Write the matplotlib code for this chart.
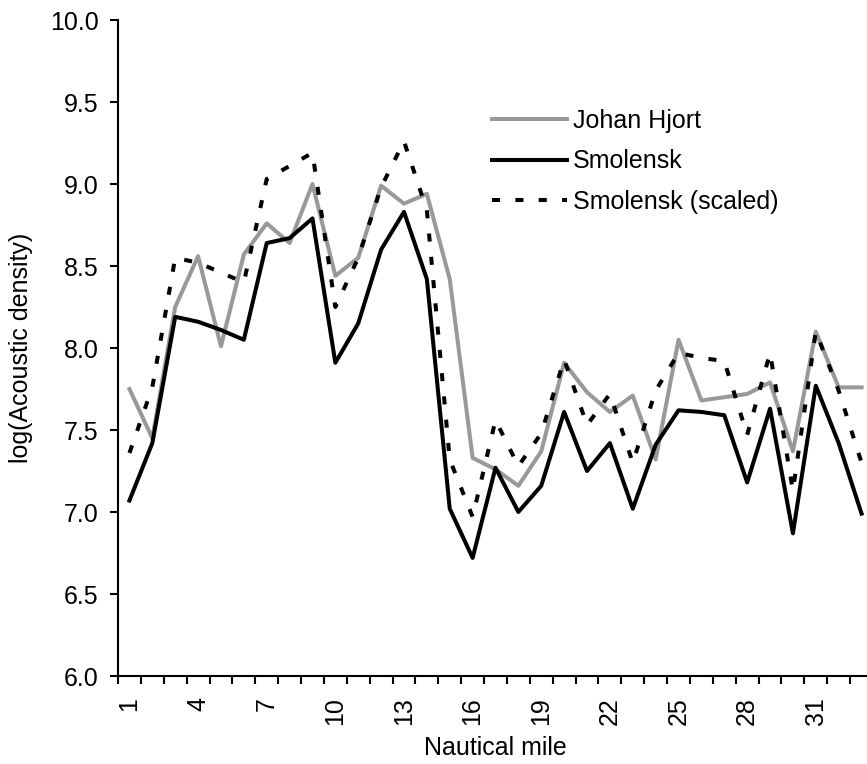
import numpy as np
import matplotlib
matplotlib.use("Agg")
import matplotlib.pyplot as plt

plt.rcParams['font.family'] = ['Liberation Sans', 'DejaVu Sans']

# nautical mile index 1..33
miles = list(range(1, 34))

johan_hjort = [7.75, 7.45, 8.25, 8.56, 8.01, 8.57, 8.76, 8.64, 9.00, 8.44,
               8.55, 8.99, 8.88, 8.94, 8.42, 7.33, 7.26, 7.16, 7.37, 7.91,
               7.73, 7.61, 7.71, 7.32, 8.05, 7.68, 7.70, 7.72, 7.79, 7.37,
               8.10, 7.76, 7.76]

smolensk = [7.07, 7.42, 8.19, 8.16, 8.11, 8.05, 8.64, 8.67, 8.79, 7.91,
            8.15, 8.60, 8.83, 8.42, 7.02, 6.72, 7.27, 7.00, 7.16, 7.61,
            7.25, 7.42, 7.02, 7.41, 7.62, 7.61, 7.59, 7.18, 7.63, 6.87,
            7.77, 7.42, 6.99]

smolensk_scaled = [7.36, 7.76, 8.55, 8.52, 8.46, 8.40, 9.03, 9.11, 9.19, 8.25,
                   8.55, 8.98, 9.26, 8.84, 7.32, 6.97, 7.56, 7.28, 7.48, 7.93,
                   7.53, 7.72, 7.30, 7.74, 7.97, 7.94, 7.92, 7.47, 7.97, 7.13,
                   8.10, 7.74, 7.30]

tick_labels = [str(m) for m in miles if (m - 1) % 3 == 0]

W, H = 867, 764
fig = plt.figure(figsize=(W / 100, H / 100), dpi=100)
# plot area runs slightly past the right edge, as in the reference
ax = fig.add_axes([118 / W, (H - 676) / H, (873 - 118) / W, (676 - 20) / H])

lw = 2.9
ax.plot(miles, johan_hjort, color='#999999', lw=lw, label='Johan Hjort')
ax.plot(miles, smolensk, color='black', lw=lw, label='Smolensk')
ax.plot(miles, smolensk_scaled, color='black', lw=lw, dashes=(2.0, 3.8),
        label='Smolensk (scaled)')

ax.set_xlim(0.5, 33.5)
ax.set_ylim(6.0, 10.0)
ax.set_yticks(np.arange(6.0, 10.01, 0.5))
ax.set_yticklabels(['%.1f' % v for v in np.arange(6.0, 10.01, 0.5)])

# category axis: marks between categories, labels at every third category
ax.set_xticks(np.arange(0.5, 34, 1.0))
ax.set_xticklabels([])
ax.set_xticks([m for m in miles if (m - 1) % 3 == 0], minor=True)
ax.set_xticklabels(tick_labels, minor=True, rotation=90)
ax.tick_params(axis='x', which='minor', length=0, pad=15, labelsize=18)
ax.tick_params(axis='x', which='major', length=5.8, width=1.5, direction='out')
ax.tick_params(axis='y', length=5.8, width=1.5, direction='out', pad=8,
               labelsize=18)

for s in ['top', 'right']:
    ax.spines[s].set_visible(False)
for s in ['left', 'bottom']:
    ax.spines[s].set_linewidth(1.5)

ax.set_xlabel('Nautical mile', fontsize=18, labelpad=8)
ax.set_ylabel('log(Acoustic density)', fontsize=18, labelpad=12)

ax.legend(loc='upper left', bbox_to_anchor=(492 / W, 1 - 109 / H),
          bbox_transform=fig.transFigure, frameon=False, fontsize=18,
          handlelength=3.0, handletextpad=0.25, labelspacing=0.65,
          borderpad=0, borderaxespad=0)

fig.savefig('out.png', dpi=100)
